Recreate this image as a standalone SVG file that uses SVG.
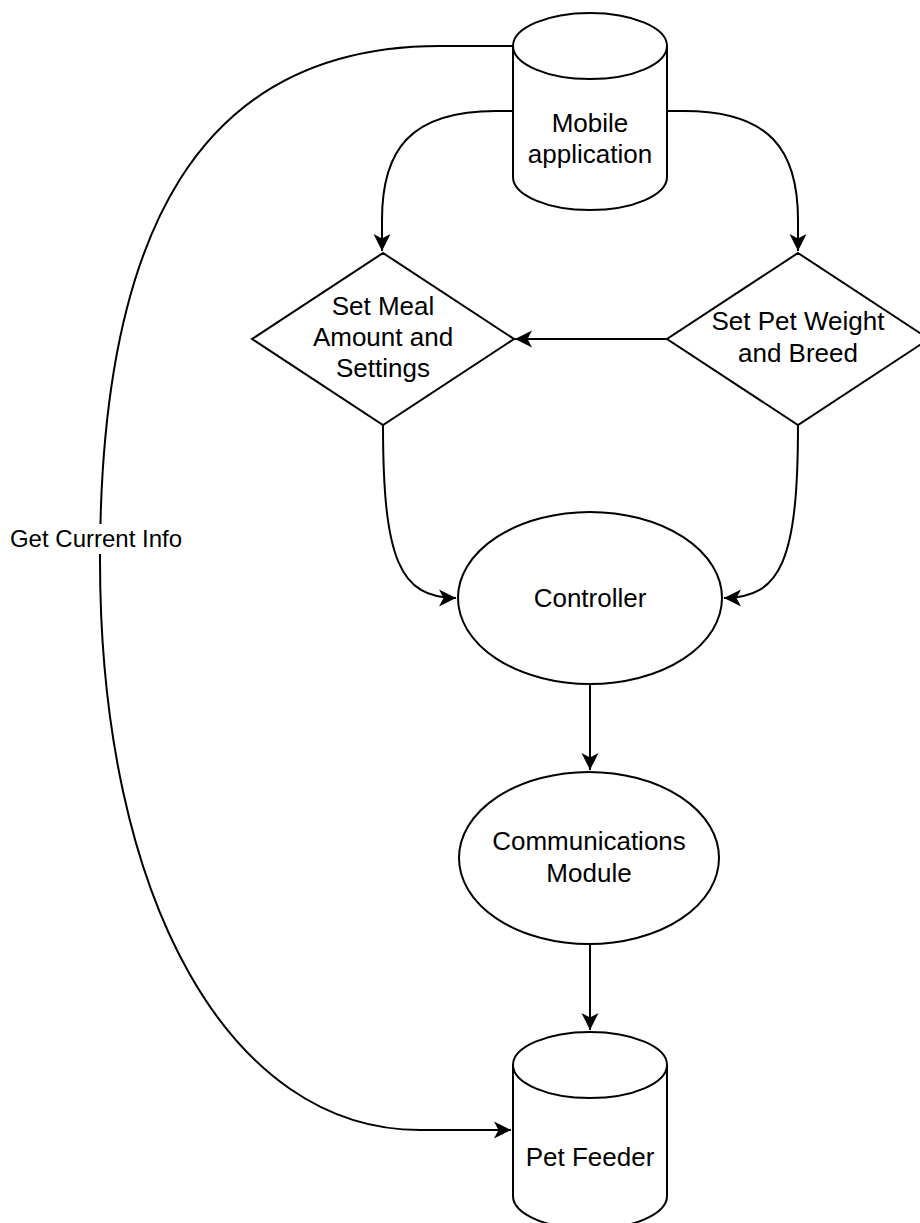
<svg xmlns="http://www.w3.org/2000/svg" width="920" height="1223" viewBox="0 0 920 1223">
<style>
.shape{fill:#fff;stroke:#000;stroke-width:2}
.edge{fill:none;stroke:#000;stroke-width:2}
.lbl{font-family:"Liberation Sans",Arial,Helvetica,sans-serif;font-size:26px;fill:#000;text-anchor:middle}
.elbl{font-family:"Liberation Sans",Arial,Helvetica,sans-serif;font-size:24px;fill:#000;text-anchor:middle}
</style>
<defs>
<marker id="arr" markerUnits="userSpaceOnUse" markerWidth="20" markerHeight="20" viewBox="-18 -10 20 20" refX="0" refY="0" orient="auto">
<path d="M0,0 L-17,-8.5 L-12.5,0 L-17,8.5 Z" fill="#000"/>
</marker>
</defs>
<rect width="920" height="1223" fill="#fff"/>
<g id="connectors">
<path class="edge" d="M513,111 L496,111 C410,111 382,150 382,220 L382,251" marker-end="url(#arr)"/>
<path class="edge" d="M667,111 L684,111 C770,111 798,150 798,220 L798,251" marker-end="url(#arr)"/>
<path class="edge" d="M667,339 L515,339" marker-end="url(#arr)"/>
<path class="edge" d="M383,425 C383,560 400,598 456,598" marker-end="url(#arr)"/>
<path class="edge" d="M798,425 C798,560 781,598 724,598" marker-end="url(#arr)"/>
<path class="edge" d="M590,684 L590,770" marker-end="url(#arr)"/>
<path class="edge" d="M590,944 L590,1030" marker-end="url(#arr)"/>
<path class="edge" d="M513,46 L440,46 C200,46 100,230 100,560 C100,900 230,1130 420,1130 L511,1130" marker-end="url(#arr)"/>
<rect x="8" y="524" width="176" height="30" fill="#fff"/>
<text class="elbl" x="96" y="547">Get Current Info</text>
</g>
<g id="mobile-application">
<path class="shape" d="M513,46 A77,33 0 0 1 667,46 L667,177 A77,33 0 0 1 513,177 Z"/>
<path class="edge" d="M513,46 A77,33 0 0 0 667,46"/>
<text class="lbl" x="590" y="132">Mobile</text>
<text class="lbl" x="590" y="163">application</text>
</g>
<g id="set-meal">
<path class="shape" d="M383,253 L514,339 L383,425 L252,339 Z"/>
<text class="lbl" x="383" y="315">Set Meal</text>
<text class="lbl" x="383" y="346">Amount and</text>
<text class="lbl" x="383" y="377">Settings</text>
</g>
<g id="set-pet-weight">
<path class="shape" d="M798,253 L929,339 L798,425 L667,339 Z"/>
<text class="lbl" x="798" y="330">Set Pet Weight</text>
<text class="lbl" x="798" y="362">and Breed</text>
</g>
<g id="controller">
<ellipse class="shape" cx="590" cy="598" rx="132" ry="86"/>
<text class="lbl" x="590" y="607">Controller</text>
</g>
<g id="communications-module">
<ellipse class="shape" cx="589" cy="858" rx="130" ry="86"/>
<text class="lbl" x="589" y="850">Communications</text>
<text class="lbl" x="589" y="882">Module</text>
</g>
<g id="pet-feeder">
<path class="shape" d="M513,1065 A77,33 0 0 1 667,1065 L667,1196 A77,33 0 0 1 513,1196 Z"/>
<path class="edge" d="M513,1065 A77,33 0 0 0 667,1065"/>
<text class="lbl" x="590" y="1166">Pet Feeder</text>
</g>
</svg>
